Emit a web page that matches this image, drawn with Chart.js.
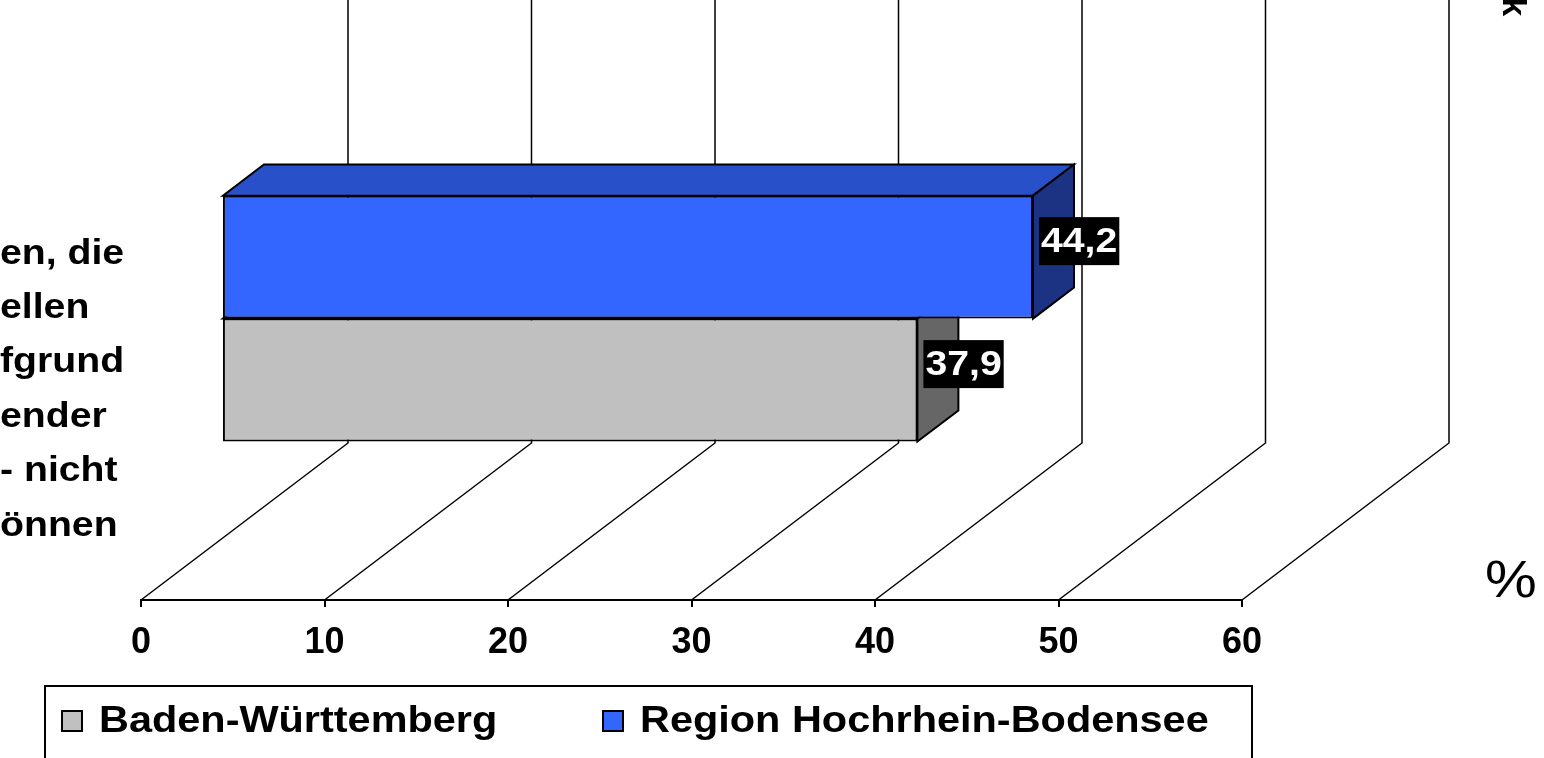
<!DOCTYPE html>
<html>
<head>
<meta charset="utf-8">
<script src="https://cdn.jsdelivr.net/npm/chart.js@4.4.0/dist/chart.umd.min.js"></script>
<style>
  html, body { margin: 0; padding: 0; background: #fff; }
  #wrap { width: 1544px; height: 758px; }
</style>
</head>
<body>
<div id="wrap"><canvas id="myChart" width="1544" height="758"></canvas></div>
<script>
// data
const categories = [["en, die", "ellen", "fgrund", "ender", "- nicht", "önnen"]];
const bwValues = [37.9];
const regionValues = [44.2];
const xMin = 0, xMax = 60, xStep = 10;
const legendOrder = ["Baden-Württemberg", "Region Hochrhein-Bodensee"];
const unitLabel = "%";
const cornerLabel = "k";

// 3d look
const DEPTH = { x: 207, y: -157 };
const BAR_FRONT = 0.391, BAR_BACK = 0.589;
const SX = 1.12; // text in the picture is a bit wide

function wideText(ctx, txt, x, y, font, align, color) {
  ctx.save();
  ctx.font = font;
  ctx.fillStyle = color || "#000";
  ctx.textBaseline = "middle";
  ctx.textAlign = "left";
  const w = ctx.measureText(txt).width * SX;
  const left = align === "right" ? x - w : align === "center" ? x - w / 2 : x;
  ctx.translate(left, y);
  ctx.scale(SX, 1);
  ctx.fillText(txt, 0, 0);
  ctx.restore();
  return w;
}

const box3d = {
  id: "box3d",
  beforeDatasetsDraw(chart) {
    const ctx = chart.ctx, xs = chart.scales.x, area = chart.chartArea;
    ctx.save();
    ctx.strokeStyle = "#000";
    ctx.lineWidth = 1.5;
    xs.ticks.forEach(t => {
      const px = xs.getPixelForValue(t.value);
      ctx.beginPath();
      ctx.moveTo(px, area.bottom);
      ctx.lineTo(px + DEPTH.x, area.bottom + DEPTH.y);
      ctx.lineTo(px + DEPTH.x, 0);
      ctx.stroke();
    });

    /* side and top faces, lower bar first */
    const fx = DEPTH.x * BAR_FRONT, fy = DEPTH.y * BAR_FRONT;
    const dx = DEPTH.x * (BAR_BACK - BAR_FRONT), dy = DEPTH.y * (BAR_BACK - BAR_FRONT);
    ctx.lineWidth = 2;
    for (let d = chart.data.datasets.length - 1; d >= 0; d--) {
      const ds = chart.data.datasets[d];
      chart.getDatasetMeta(d).data.forEach(el => {
        const x0 = el.base + fx, x1 = el.x + fx;
        const y0 = el.y - el.height / 2 + fy, y1 = el.y + el.height / 2 + fy;
        ctx.fillStyle = ds.topColor;
        ctx.beginPath();
        ctx.moveTo(x0, y0); ctx.lineTo(x1, y0);
        ctx.lineTo(x1 + dx, y0 + dy); ctx.lineTo(x0 + dx, y0 + dy);
        ctx.closePath(); ctx.fill(); ctx.stroke();
        ctx.fillStyle = ds.sideColor;
        ctx.beginPath();
        ctx.moveTo(x1, y0); ctx.lineTo(x1 + dx, y0 + dy);
        ctx.lineTo(x1 + dx, y1 + dy); ctx.lineTo(x1, y1);
        ctx.closePath(); ctx.fill(); ctx.stroke();
      });
    }
    ctx.restore();

    // front faces are drawn by chart.js, pushed back into the box
    ctx.save();
    ctx.translate(fx, fy);
  },
  afterDatasetsDraw(chart) {
    const ctx = chart.ctx;
    ctx.restore();
    const fx = DEPTH.x * BAR_FRONT, fy = DEPTH.y * BAR_FRONT;
    chart.data.datasets.forEach((ds, d) => {
      chart.getDatasetMeta(d).data.forEach((el, i) => {
        const txt = ds.data[i].toFixed(1).replace(".", ",");
        ctx.save();
        ctx.font = "bold 35px Arial, 'Liberation Sans', sans-serif";
        const w = ctx.measureText(txt).width * SX;
        const left = el.x + fx + 6, cy = el.y + fy - 16;
        ctx.fillStyle = "#000";
        ctx.fillRect(left, cy - 24, w + 4, 48);
        ctx.restore();
        wideText(ctx, txt, left + 2, cy + 1, "bold 35px Arial, 'Liberation Sans', sans-serif", "left", "#fff");
      });
    });
  },
  afterDraw(chart) {
    const ctx = chart.ctx, ys = chart.scales.y;
    // category label, cut off at the left edge of the picture
    const lines = ys.getLabels()[0];
    const cy = ys.getPixelForValue(0) + 10;
    lines.forEach((ln, i) => {
      wideText(ctx, ln, 0, cy + (i - (lines.length - 1) / 2) * 54.4, "bold 35px Arial, 'Liberation Sans', sans-serif", "left");
    });

    wideText(ctx, unitLabel, 1511, 583, "52px Arial, 'Liberation Sans', sans-serif", "center");

    ctx.save();
    ctx.font = "bold 33px Arial, 'Liberation Sans', sans-serif";
    ctx.fillStyle = "#000";
    ctx.translate(1503, 16);
    ctx.rotate(Math.PI / 2);
    ctx.textAlign = "right";
    ctx.textBaseline = "alphabetic";
    ctx.fillText(cornerLabel, 0, 0);
    ctx.restore();

    // legend box
    ctx.save();
    ctx.strokeStyle = "#000";
    ctx.lineWidth = 2;
    ctx.strokeRect(45, 686, 1207, 200);
    const itemX = [62, 603];
    legendOrder.forEach((name, k) => {
      const ds = chart.data.datasets.find(s => s.label === name);
      ctx.fillStyle = ds.backgroundColor;
      ctx.fillRect(itemX[k], 711, 20, 20);
      ctx.strokeRect(itemX[k], 711, 20, 20);
      wideText(ctx, name, itemX[k] + 37, 722, "bold 37px Arial, 'Liberation Sans', sans-serif", "left");
    });
    ctx.restore();
  }
};

const ctx = document.getElementById("myChart");
const myChart = new Chart(ctx, {
  type: "bar",
  data: {
    labels: categories,
    datasets: [
      {
        label: "Region Hochrhein-Bodensee",
        data: regionValues,
        backgroundColor: "#3366FF",
        topColor: "#2850C8",
        sideColor: "#1C3383",
        borderColor: "#000",
        borderWidth: 2,
        borderSkipped: false
      },
      {
        label: "Baden-Württemberg",
        data: bwValues,
        backgroundColor: "#C0C0C0",
        topColor: "#999999",
        sideColor: "#666666",
        borderColor: "#000",
        borderWidth: 2,
        borderSkipped: false
      }
    ]
  },
  options: {
    indexAxis: "y",
    responsive: false,
    animation: false,
    events: [],
    layout: { padding: { left: 141, right: 302, top: 160, bottom: 0 } },
    datasets: { bar: { barPercentage: 1, categoryPercentage: 0.559 } },
    scales: {
      x: {
        min: xMin,
        max: xMax,
        afterFit(scale) { scale.height = 158; },
        ticks: {
          stepSize: xStep,
          color: "#000",
          padding: 14,
          font: { family: "Arial, 'Liberation Sans', sans-serif", size: 36, weight: "bold" }
        },
        grid: { drawOnChartArea: false, drawTicks: true, tickLength: 7, color: "#000", lineWidth: 2 },
        border: { display: true, color: "#000", width: 2 }
      },
      y: { display: false }
    },
    plugins: {
      legend: { display: false },
      tooltip: { enabled: false }
    }
  },
  plugins: [box3d]
});
myChart;
</script>
</body>
</html>
